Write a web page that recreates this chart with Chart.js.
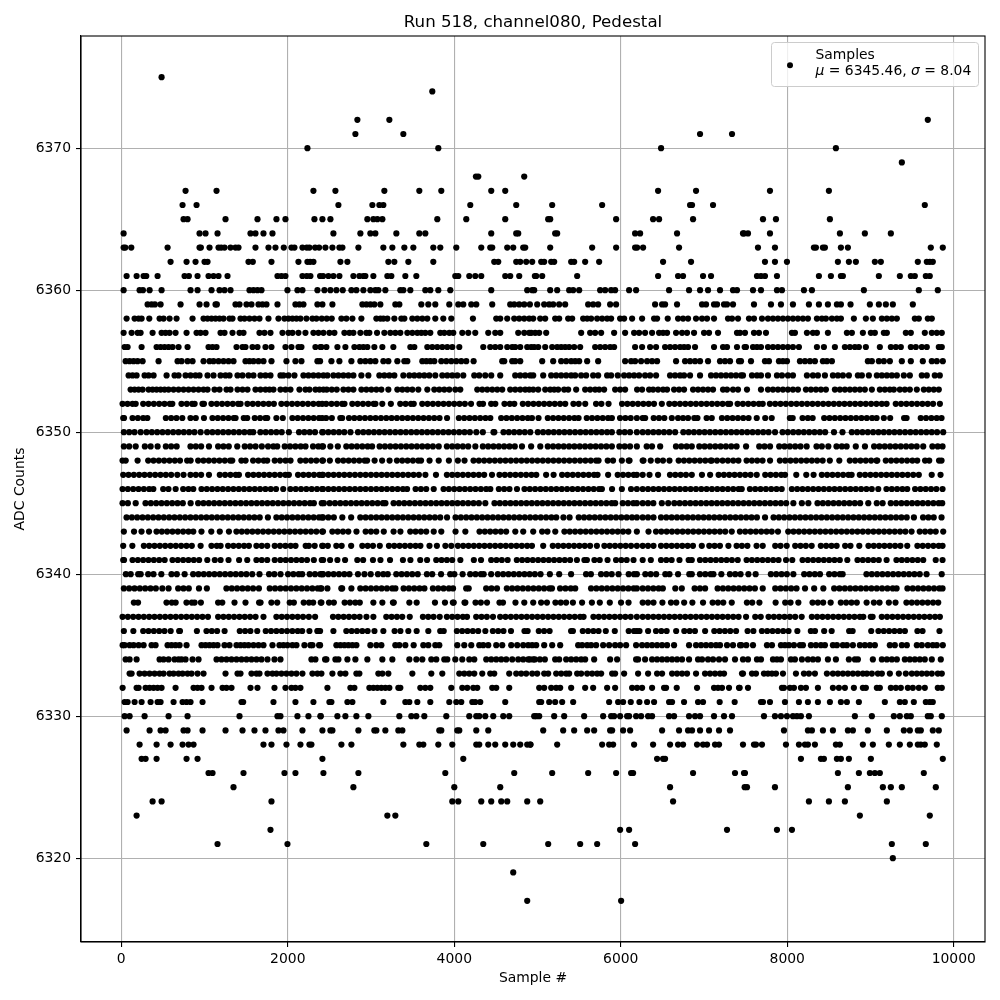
<!DOCTYPE html>
<html>
<head>
<meta charset="utf-8">
<style>html,body{margin:0;background:#fff}#wrap{width:1000px;height:1000px}</style>
<script src="https://cdn.jsdelivr.net/npm/chart.js@4/dist/chart.umd.min.js"></script>
</head>
<body>
<div id="wrap"><canvas id="pedestal" width="1000" height="1000"></canvas></div>
<script>
// sample numbers, one list per ADC level
const s6375=[484];
const s6374=[3736];
const s6372=[2836,3220,9688];
const s6371=[2812,3388,6952,7336];
const s6370=[2236,3808,6484,8584];
const s6369=[9376];
const s6368=[4260,4288,4840];
const s6367=[772,1144,2308,2572,3160,3580,3844,4444,4612,6448,6904,7792,8500];
const s6366=[736,904,2608,3016,3100,3148,4192,4744,5176,5776,6832,6856,7108,9652];
const s6365=[748,796,1252,1636,1864,1972,2320,2416,2512,2956,3028,3076,3136,3796,4144,4612,5128,5152,5944,6388,6460,6868,7708,7864,8512];
const s6364=[28,940,1012,1156,1552,1612,1708,1816,2548,2872,2992,3052,3304,3580,3652,4444,4744,4768,5212,5236,6172,6232,6676,7468,7480,7528,7792,8632,8932,9244];
const s6363=[28,48,120,556,940,956,1060,1168,1200,1240,1312,1372,1408,1612,1768,1852,1952,2044,2080,2176,2228,2260,2328,2376,2452,2536,2620,2656,2848,3148,3256,3400,3508,3748,3832,4024,4324,4432,4456,4636,4708,4828,4852,5152,5656,5944,6172,6196,6268,6700,7648,7852,8320,8344,8428,8452,8644,8728,9724,9868];
const s6362=[592,784,892,1000,1036,1528,1580,1804,2128,2236,2268,2308,2632,2716,3208,3280,3448,3748,4480,4528,4744,4792,4864,4936,5044,5080,5164,5200,5404,5440,5572,5740,6508,6844,7732,7852,7996,8608,8740,8824,9052,9124,9568,9676,9712,9748];
const s6361=[64,184,268,300,436,760,812,916,1048,1108,1168,1276,1876,1924,1972,2176,2228,2272,2388,2424,2488,2548,2620,2788,2860,2908,2932,3028,3196,3244,3412,3544,4012,4048,4180,4252,4324,4612,4672,4780,4968,4984,5056,5476,6448,6688,6748,6988,7084,7636,7684,7732,7876,8380,8524,8644,8668,9100,9352,9484,9532,9664,9712];
const s6360=[28,220,260,340,484,832,916,1084,1180,1240,1312,1540,1588,1636,1684,1996,2116,2176,2356,2440,2512,2584,2660,2764,2824,2908,2992,3052,3088,3172,3352,3388,3472,3652,3712,3808,3952,4444,4876,4936,4960,5152,5236,5380,5428,5500,5752,5812,5884,5932,6100,6184,6580,6820,6952,7048,7192,7348,7396,7588,7684,7876,7936,8200,8296,8920,9580,9808];
const s6359=[316,364,404,472,712,940,1024,1132,1148,1372,1420,1504,1564,1648,1696,1744,1876,2092,2140,2188,2356,2416,2536,2896,2944,2992,3040,3112,3292,3340,3604,3688,3772,3940,4048,4108,4204,4264,4456,4672,4720,4780,4840,4908,4996,5080,5140,5188,5260,5332,5608,5668,5728,5872,5944,6412,6496,6532,6676,6976,7024,7120,7156,7240,7276,7348,7600,7804,7924,8068,8260,8380,8488,8596,8644,8760,8992,9100,9184,9268,9508];
const s6358=[64,160,208,244,336,460,508,580,664,856,988,1036,1084,1132,1180,1228,1300,1336,1432,1480,1540,1600,1660,1768,1888,1960,2008,2056,2104,2152,2224,2296,2344,2408,2468,2528,2644,2704,2776,2884,3064,3112,3148,3196,3280,3364,3400,3496,3556,3616,3676,3772,3868,3964,4224,4504,4552,4636,4720,4780,4840,4900,4948,5032,5092,5212,5260,5368,5416,5548,5596,5644,5716,5776,5836,5884,5992,6040,6136,6256,6400,6436,6564,6688,6748,6808,6904,6976,7036,7120,7288,7336,7408,7540,7600,7696,7768,7828,7888,7948,8008,8068,8128,8188,8248,8356,8416,8464,8536,8596,8644,8800,8944,9028,9136,9196,9256,9316,9532,9580,9688,9736];
const s6357=[28,124,196,232,376,484,532,580,652,784,904,952,1012,1192,1240,1336,1420,1468,1660,1720,1792,1936,2008,2056,2128,2212,2308,2368,2428,2500,2560,2680,2740,2788,2872,2944,2980,3072,3160,3232,3292,3352,3436,3496,3556,3604,3652,3712,3832,3880,3940,3988,4096,4168,4252,4408,4492,4552,4768,4840,4900,4924,4972,5020,5104,5524,5632,5692,5764,5920,6052,6160,6220,6292,6376,6460,6508,6556,6664,6736,6796,6880,7000,7060,7168,7396,7432,7492,7600,7660,7744,8056,8092,8236,8308,8356,8488,8716,8776,8908,9004,9052,9160,9196,9424,9484,9652,9736,9796,9856];
const s6356=[40,76,244,424,472,520,568,616,688,796,1048,1096,1144,1384,1456,1492,1576,1636,1732,1804,1972,2044,2128,2164,2332,2392,2404,2464,2596,2692,2800,2860,2908,2956,3040,3136,3268,3472,3520,3676,3736,3796,3856,3916,3976,4060,4348,4432,4492,4552,4636,4696,4732,4792,4876,4924,4960,5008,5092,5176,5236,5284,5332,5380,5440,5512,5692,5752,5812,5872,5920,6172,6256,6352,6424,6532,6592,6652,6712,6760,6808,6892,7120,7228,7276,7396,7488,7504,7588,7636,7684,7768,7828,7888,7948,8008,8068,8140,8356,8440,8572,8692,8752,8812,8860,8944,9112,9244,9304,9364,9484,9544,9616,9676,9820,9856];
const s6355=[52,100,148,196,256,448,676,724,796,856,988,1060,1108,1168,1228,1288,1348,1492,1540,1588,1648,1708,1804,1984,2092,2164,2356,2388,2524,2620,2764,2872,2932,2992,3052,3148,3208,3316,3400,3436,3616,3664,3712,3760,3844,3904,3964,4024,4084,4144,4232,4576,4600,4696,4732,4792,5056,5188,5284,5344,5404,5452,5500,5596,5728,6052,6124,6172,6244,6316,6376,6436,6664,6772,6832,6892,6952,7048,7192,7252,7312,7420,7444,7564,7732,7780,7900,7948,7996,8152,8212,8272,8332,8428,8476,8536,8968,9016,9100,9160,9232,9376,9484,9628,9736,9796,9868];
const s6354=[88,136,184,280,328,388,544,640,688,772,832,892,940,1036,1108,1192,1252,1300,1396,1456,1528,1588,1672,1732,1792,1912,1948,2008,2080,2188,2248,2308,2368,2428,2476,2548,2608,2668,2728,2788,2884,2968,3100,3160,3220,3280,3388,3460,3520,3580,3640,3700,3772,3856,3916,3976,4036,4108,4240,4300,4372,4444,4552,4732,4792,4852,4912,4948,5068,5164,5224,5284,5344,5404,5452,5524,5584,5668,5728,5836,5884,5964,6040,6100,6160,6220,6292,6352,6424,6592,6652,6712,6760,6832,6952,7084,7144,7204,7264,7324,7384,7444,7468,7576,7636,7684,7768,7876,7936,8008,8068,8236,8308,8368,8452,8548,8608,8668,8740,8848,8896,8980,9076,9136,9196,9256,9316,9400,9472,9616,9676,9772,9832];
const s6353=[112,160,208,256,328,376,424,472,520,568,628,688,748,808,868,928,988,1036,1120,1180,1264,1312,1396,1456,1516,1612,1672,1732,1780,1828,1912,1972,2032,2140,2212,2260,2332,2380,2428,2468,2528,2588,2668,2728,2788,2884,2944,3004,3064,3124,3208,3316,3376,3436,3496,3568,3676,3760,3820,3880,3940,4012,4072,4276,4336,4396,4456,4516,4576,4672,4732,4792,4852,4900,4948,5008,5092,5152,5200,5248,5320,5368,5464,5572,5632,5692,5740,5800,5932,5992,6052,6196,6256,6340,6388,6448,6508,6556,6640,6700,6760,6868,6928,6988,7048,7108,7228,7276,7348,7408,7516,7684,7768,7828,7888,7948,8008,8068,8128,8224,8284,8344,8404,8464,8572,8632,8692,8752,8812,8872,8932,9016,9112,9172,9232,9280,9352,9412,9472,9556,9640,9700,9760,9820];
const s6352=[15,75,135,173,263,327,391,455,519,583,613,723,787,851,881,975,993,1083,1147,1211,1275,1339,1403,1433,1515,1579,1643,1707,1771,1833,1923,1987,2051,2115,2179,2243,2307,2371,2413,2461,2525,2589,2653,2681,2775,2839,2903,2967,3031,3053,3135,3238,3351,3415,3479,3513,3615,3679,3743,3807,3871,3935,3999,4063,4127,4201,4303,4345,4443,4493,4603,4667,4721,4823,4887,4951,5015,5079,5143,5207,5271,5333,5431,5495,5573,5703,5767,5853,6015,6079,6143,6207,6271,6335,6399,6493,6583,6647,6711,6775,6839,6903,6967,7031,7095,7159,7223,7287,7313,7403,7467,7531,7595,7659,7705,7791,7855,7919,7983,8047,8111,8175,8239,8303,8367,8431,8495,8559,8623,8687,8751,8815,8879,8943,9007,9071,9135,9193,9303,9367,9431,9495,9559,9623,9687,9751,9833];
const s6351=[23,33,135,199,263,313,535,599,663,733,831,895,993,1095,1159,1223,1287,1351,1373,1471,1513,1603,1667,1731,1753,1863,1940,2055,2119,2183,2247,2311,2375,2413,2460,2529,2631,2653,2735,2799,2863,2927,2991,3055,3119,3183,3247,3311,3375,3439,3503,3567,3631,3695,3759,3823,3913,4055,4119,4183,4247,4311,4375,4433,4563,4627,4691,4755,4819,4883,4933,5012,5123,5187,5251,5315,5379,5443,5493,5591,5655,5719,5783,5847,5893,5991,6055,6119,6193,6263,6293,6395,6459,6523,6613,6688,6748,6808,6883,6921,7031,7093,7215,7279,7343,7407,7471,7535,7633,7735,7813,8031,8065,8183,8247,8305,8443,8507,8571,8635,8699,8763,8827,8891,8955,9019,9073,9160,9236,9403,9433,9603,9667,9731,9795,9853];
const s6350=[31,95,159,233,303,367,431,495,559,623,687,751,815,879,953,1031,1095,1159,1223,1287,1351,1415,1479,1543,1585,1671,1735,1799,1863,1927,2013,2135,2199,2263,2327,2413,2423,2487,2551,2615,2679,2753,2843,2907,2971,3035,3099,3163,3227,3291,3355,3419,3483,3547,3611,3675,3739,3803,3867,3931,3995,4059,4123,4187,4265,4343,4471,4481,4591,4655,4719,4783,4847,4913,5003,5067,5131,5195,5259,5323,5387,5451,5515,5579,5643,5707,5771,5835,5893,5983,6047,6111,6193,6263,6327,6391,6455,6519,6583,6653,6751,6815,6879,6943,7007,7071,7135,7199,7263,7327,7391,7455,7519,7583,7647,7711,7775,7853,7943,8007,8071,8135,8199,8263,8327,8391,8455,8561,8663,8775,8839,8903,8967,9031,9095,9159,9223,9287,9351,9415,9479,9543,9607,9671,9735,9799,9873];
const s6349=[31,95,173,283,353,436,535,599,665,831,895,959,1053,1163,1227,1291,1393,1483,1547,1613,1688,1763,1827,1873,1963,2027,2091,2155,2213,2303,2367,2413,2423,2511,2601,2703,2767,2831,2895,2959,3013,3103,3167,3231,3295,3359,3423,3487,3551,3615,3679,3743,3813,3911,3975,4039,4103,4167,4253,4343,4407,4471,4535,4599,4663,4727,4813,4923,5033,5123,5187,5251,5315,5379,5443,5507,5571,5635,5699,5763,5827,5893,5983,6047,6111,6193,6311,6375,6473,6663,6727,6791,6853,6943,7007,7071,7135,7199,7263,7327,7391,7505,7663,7727,7793,7903,7967,8031,8095,8159,8233,8351,8415,8493,8591,8655,8713,8823,8933,9043,9107,9171,9235,9299,9363,9427,9491,9555,9633,9743,9807,9865];
const s6348=[15,53,196,323,387,451,515,579,643,705,791,833,923,987,1051,1115,1179,1243,1307,1333,1443,1493,1583,1647,1711,1753,1843,1907,1973,2033,2151,2215,2279,2343,2413,2423,2505,2603,2667,2731,2795,2859,2923,2953,3043,3133,3223,3311,3375,3439,3503,3567,3601,3703,3813,3935,4043,4123,4231,4295,4359,4423,4487,4551,4615,4679,4743,4807,4871,4935,4999,5063,5127,5191,5255,5319,5383,5447,5511,5575,5639,5703,5733,5843,5907,6013,6095,6105,6263,6273,6360,6443,6507,6585,6695,6759,6823,6887,6951,7015,7079,7093,7156,7223,7287,7351,7413,7511,7575,7639,7703,7793,7911,7975,8039,8103,8167,8231,8295,8359,8425,8511,8625,8751,8815,8879,8943,9007,9071,9081,9183,9247,9311,9375,9439,9503,9561,9655,9705,9823,9853];
const s6347=[23,87,151,215,279,343,407,471,535,599,673,748,831,895,959,1053,1183,1247,1311,1375,1413,1523,1587,1651,1715,1779,1843,1907,1971,2013,2123,2187,2251,2315,2379,2413,2423,2487,2551,2615,2679,2743,2807,2871,2935,2999,3063,3127,3191,3255,3319,3383,3447,3511,3575,3653,3780,3911,3975,4039,4103,4167,4231,4295,4359,4453,4543,4607,4671,4735,4799,4863,4927,4985,5103,5193,5295,5359,5423,5487,5551,5615,5679,5721,5848,5963,6027,6091,6155,6193,6263,6345,6448,6591,6655,6719,6783,6853,6975,7073,7175,7239,7303,7367,7431,7495,7559,7633,7735,7799,7863,7927,7973,8108,8228,8316,8415,8479,8543,8607,8671,8735,8773,8871,8935,8999,9063,9127,9191,9255,9319,9383,9447,9513,9580,9735,9841];
const s6346=[15,79,143,207,271,335,385,503,567,653,743,807,865,963,1027,1091,1155,1219,1283,1347,1411,1475,1539,1603,1667,1731,1795,1859,1945,2031,2095,2159,2223,2287,2351,2413,2423,2487,2551,2615,2679,2743,2807,2871,2935,2999,3063,3127,3191,3255,3319,3383,3433,3535,3599,3663,3753,3871,3935,3999,4063,4127,4191,4255,4319,4383,4433,4535,4599,4663,4753,4843,4907,4971,5035,5099,5163,5227,5291,5355,5419,5483,5547,5611,5675,5739,5773,5895,6013,6123,6193,6263,6327,6391,6455,6519,6583,6647,6711,6775,6839,6903,6967,7031,7095,7159,7223,7287,7351,7415,7453,7551,7615,7679,7743,7807,7871,7933,8055,8119,8183,8247,8311,8375,8439,8503,8567,8631,8695,8759,8823,8887,8951,9015,9093,9191,9255,9319,9383,9441,9535,9599,9663,9727,9791,9865];
const s6345=[15,79,173,291,355,419,483,547,611,675,739,833,923,987,1051,1115,1179,1243,1307,1371,1435,1499,1563,1627,1691,1755,1819,1883,1947,2011,2075,2139,2203,2267,2313,2408,2433,2503,2567,2631,2695,2759,2823,2887,2951,3015,3079,3143,3173,3271,3335,3399,3463,3527,3591,3655,3719,3783,3847,3911,3975,4039,4103,4167,4231,4295,4373,4483,4547,4611,4675,4739,4803,4867,4931,4995,5059,5123,5187,5251,5315,5379,5443,5507,5571,5635,5699,5763,5827,5891,5933,6023,6087,6151,6193,6263,6327,6391,6493,6570,6643,6707,6771,6835,6899,6963,7027,7091,7155,7219,7283,7347,7411,7475,7539,7603,7667,7731,7795,7859,7923,7987,8073,8175,8253,8363,8427,8491,8555,8619,8683,8747,8811,8875,8973,9075,9145,9243,9307,9371,9435,9499,9563,9627,9691,9755,9819,9861];
const s6344=[63,127,191,255,319,383,447,511,575,639,703,767,831,895,959,1023,1087,1151,1215,1279,1343,1407,1471,1535,1599,1663,1761,1863,1927,1991,2055,2119,2183,2247,2311,2375,2413,2423,2487,2553,2655,2761,2871,2935,2999,3063,3127,3191,3255,3319,3383,3447,3511,3575,3639,3703,3767,3831,3913,4015,4079,4143,4207,4271,4335,4399,4463,4527,4591,4655,4719,4783,4847,4911,4975,5039,5103,5167,5225,5311,5385,5495,5559,5623,5687,5751,5815,5879,5943,6007,6071,6135,6193,6263,6327,6393,6483,6547,6611,6675,6739,6803,6867,6931,6995,7059,7123,7187,7251,7315,7379,7443,7507,7571,7635,7733,7835,7899,7963,8027,8091,8155,8219,8283,8347,8411,8475,8539,8603,8667,8731,8795,8859,8923,8987,9051,9115,9179,9243,9307,9371,9435,9521,9631,9695,9759,9853];
const s6343=[31,153,243,333,423,487,551,615,679,743,807,865,963,1081,1183,1293,1383,1447,1511,1575,1639,1703,1767,1831,1895,1959,2023,2087,2151,2215,2279,2343,2413,2423,2535,2599,2663,2727,2825,2935,2999,3063,3153,3271,3353,3471,3535,3599,3663,3753,3844,4015,4133,4303,4367,4431,4495,4559,4623,4733,4828,4948,5055,5119,5213,5323,5387,5451,5515,5579,5643,5707,5771,5835,5899,5963,6027,6091,6193,6333,6423,6487,6551,6615,6679,6743,6807,6871,6935,6999,7063,7127,7191,7255,7333,7431,7495,7559,7623,7687,7751,7813,7888,8011,8075,8139,8203,8267,8331,8395,8459,8523,8587,8651,8715,8779,8843,8907,8971,9035,9099,9163,9227,9291,9355,9419,9493,9591,9655,9719,9783,9873];
const s6342=[23,133,271,335,399,463,527,591,655,719,783,847,953,1083,1147,1193,1283,1347,1411,1475,1533,1623,1687,1753,1843,1907,1971,2035,2093,2215,2253,2323,2413,2423,2481,2583,2647,2761,2895,2959,3023,3105,3215,3279,3343,3407,3471,3535,3593,3702,3791,3893,3964,4043,4107,4171,4235,4299,4363,4427,4491,4555,4619,4683,4747,4811,4875,4933,5068,5183,5247,5311,5375,5439,5503,5567,5631,5713,5803,5867,5931,5995,6059,6123,6193,6263,6327,6393,6483,6547,6611,6675,6739,6803,6867,6973,7063,7127,7191,7293,7391,7455,7521,7631,7705,7855,7919,7993,8095,8159,8223,8293,8403,8467,8531,8593,8695,8759,8865,8975,9039,9103,9167,9231,9295,9359,9441,9563,9627,9691,9755,9819,9865];
const s6341=[23,33,135,199,263,327,391,455,521,615,679,743,807,871,935,1033,1123,1193,1288,1415,1513,1623,1687,1753,1843,1911,1975,2039,2103,2167,2231,2313,2408,2425,2508,2596,2688,2835,2905,3023,3113,3228,3383,3473,3591,3673,3783,3847,3911,3975,4073,4235,4321,4443,4507,4571,4641,4751,4815,4879,4943,5007,5071,5135,5199,5263,5327,5391,5473,5563,5593,5683,5747,5841,5943,6007,6071,6153,6263,6361,6483,6547,6611,6705,6815,6853,6951,7015,7079,7143,7207,7271,7335,7405,7511,7575,7639,7703,7767,7831,7895,7985,8060,8183,8247,8311,8375,8439,8503,8567,8631,8721,8843,8907,8971,9035,9099,9193,9311,9375,9439,9503,9567,9633,9783,9865];
const s6340=[55,113,203,233,323,387,481,603,667,761,863,927,991,1055,1119,1183,1247,1311,1375,1439,1503,1573,1660,1775,1839,1913,2003,2067,2131,2173,2263,2327,2391,2413,2423,2487,2551,2615,2679,2741,2843,2921,2996,3083,3147,3201,3303,3367,3431,3495,3561,3671,3735,3841,3951,4001,4100,4191,4255,4319,4353,4443,4523,4587,4651,4715,4779,4843,4905,4968,5036,5148,5260,5403,5583,5641,5763,5827,5891,5973,6095,6159,6193,6295,6359,6425,6535,6585,6688,6823,6853,6951,7015,7079,7113,7208,7311,7375,7439,7533,7620,7803,7867,7931,7995,8073,8203,8267,8331,8393,8503,8567,8631,8665,8951,9015,9079,9143,9207,9271,9335,9399,9463,9527,9591,9673,9855];
const s6339=[31,95,159,223,287,351,415,493,568,683,747,811,933,1028,1263,1327,1391,1455,1519,1583,1653,1783,1847,1911,1975,2039,2103,2167,2231,2295,2359,2393,2404,2476,2643,2653,2764,2871,2935,2999,3063,3127,3191,3255,3293,3391,3455,3519,3583,3641,3743,3807,3871,3935,3985,4143,4173,4383,4447,4513,4631,4695,4759,4823,4887,4951,5015,5079,5143,5173,5271,5335,5399,5453,5643,5707,5771,5835,5899,5963,6027,6091,6155,6193,6263,6327,6391,6455,6505,6655,6733,6887,6951,7013,7163,7227,7291,7355,7419,7483,7547,7611,7705,7855,7919,7983,8047,8111,8213,8323,8433,8563,8627,8691,8755,8819,8883,8947,9011,9075,9139,9203,9267,9313,9443,9507,9571,9635,9699,9763,9827,9865];
const s6338=[151,201,543,607,653,783,847,881,956,1163,1213,1360,1492,1655,1673,1803,1873,2023,2073,2191,2255,2305,2396,2404,2495,2553,2683,2747,2811,2865,3028,3136,3263,3273,3460,3548,3768,3888,3983,3993,4123,4133,4255,4319,4393,4543,4585,4735,4841,4948,5043,5113,5215,5279,5343,5425,5535,5653,5748,5868,6003,6093,6263,6327,6393,6500,6603,6667,6761,6860,6988,7103,7167,7231,7333,7515,7579,7665,7860,7975,8039,8133,8303,8367,8431,8521,8643,8707,8771,8835,8953,9040,9108,9220,9300,9431,9495,9559,9623,9687,9751,9813];
const s6337=[15,79,143,207,271,335,399,463,527,591,655,719,783,847,911,975,1041,1163,1227,1291,1355,1419,1483,1547,1613,1708,1863,1927,1991,2055,2119,2183,2253,2328,2543,2607,2671,2735,2799,2863,2945,3028,3183,3247,3311,3375,3465,3623,3687,3751,3825,3911,3975,4039,4103,4153,4263,4327,4391,4465,4551,4615,4679,4743,4807,4871,4935,4999,5063,5127,5191,5255,5319,5383,5447,5511,5553,5671,5735,5799,5863,5927,5991,6055,6119,6193,6263,6327,6391,6455,6519,6583,6647,6711,6775,6839,6903,6967,7031,7095,7159,7223,7287,7351,7415,7505,7615,7681,7775,7839,7903,7967,8031,8095,8173,8295,8359,8423,8487,8551,8615,8679,8743,8807,8871,8913,9003,9025,9135,9199,9263,9327,9391,9455,9519,9583,9647,9711,9775,9833];
const s6336=[31,145,263,327,391,455,519,593,695,705,908,1023,1087,1151,1241,1423,1487,1551,1633,1735,1799,1863,1927,1991,2055,2119,2173,2260,2355,2361,2388,2548,2703,2767,2831,2895,2959,3041,3148,3283,3353,3448,3548,3688,3831,3873,4031,4095,4159,4223,4287,4373,4463,4527,4591,4681,4843,4881,5015,5079,5145,5403,5425,5543,5607,5671,5733,5820,5928,6095,6159,6193,6225,6328,6423,6487,6551,6665,6763,6827,6891,7013,7123,7187,7251,7315,7385,7523,7593,7695,7759,7823,7887,7951,8015,8121,8283,8333,8443,8533,8743,8785,9008,9095,9159,9223,9287,9351,9413,9563,9625,9828];
const s6335=[16,40,100,148,208,268,364,412,556,604,652,700,784,964,1012,1060,1108,1156,1240,1300,1384,1432,1480,1528,1588,1648,1708,1816,1900,1948,1996,2056,2104,2200,2272,2296,2376,2388,2584,2632,2680,2728,2776,2824,2992,3064,3124,3292,3340,3412,3512,3628,3688,3772,3820,4036,4120,4204,4300,4348,4408,4504,4576,4684,4756,4828,4888,4936,4984,5080,5176,5272,5488,5536,5596,5644,5704,5788,5860,5932,5992,6064,6184,6256,6316,6376,6436,6496,6556,6640,6820,6904,6964,7024,7084,7144,7192,7276,7348,7432,7448,7508,7588,7756,7816,7924,7972,8020,8080,8152,8188,8284,8344,8404,8452,8548,8596,8668,8716,8788,8872,8932,8992,9052,9232,9292,9376,9436,9556,9616,9688,9748,9796,9868];
const s6334=[52,100,184,460,508,568,640,688,724,772,856,928,1144,1204,1264,1324,1384,1444,1504,1564,1624,1684,1756,1840,1912,2284,2332,2448,2464,2572,2608,2716,2812,2956,3136,3256,3460,3544,3616,3724,3784,3880,3916,4012,4096,4180,4240,4384,4444,4504,4564,4624,4696,4768,4828,4888,4948,4908,4968,5028,5088,5212,5260,5344,5404,5464,5524,5572,5680,5872,5956,6184,6208,6292,6376,6436,6496,6556,6616,6676,6736,6820,6928,6976,7048,7108,7180,7252,7372,7468,7528,7636,7684,7828,7876,7924,8044,8092,8176,8248,8308,8368,8488,8584,8740,8812,8848,9028,9136,9196,9256,9316,9412,9472,9532,9592,9652,9736,9844];
const s6333=[100,124,220,280,340,400,460,508,580,628,688,736,796,844,916,988,1252,1396,1432,1564,1624,1660,1756,1816,1864,1924,1984,2044,2104,2176,2296,2356,2404,2536,2632,2692,2824,2860,3088,3136,3208,3496,3724,3856,4060,4120,4180,4240,4336,4432,4480,4660,4744,4804,4864,4936,4996,5080,5128,5224,5284,5344,5380,5476,5524,5596,5656,5716,5764,5896,5932,6040,6208,6328,6436,6496,6616,6676,6736,6796,6904,7012,7072,7132,7192,7240,7456,7468,7576,7624,7720,7768,7816,7864,7948,8104,8200,8260,8332,8476,8548,8608,8668,8728,8788,8848,8908,8956,9016,9088,9136,9232,9340,9424,9496,9556,9616,9676,9736,9808,9856];
const s6332=[16,184,208,292,340,388,436,484,652,868,916,964,1084,1216,1264,1324,1552,1636,1840,1972,2044,2092,2152,2476,2752,2800,2980,3028,3076,3124,3172,3220,3328,3352,3592,3652,3712,3964,4096,4156,4228,4276,4456,4504,4660,5020,5080,5164,5224,5272,5404,5572,5668,5836,5932,6136,6196,6256,6376,6520,6544,6672,6916,7120,7168,7216,7300,7420,7428,7528,7936,7960,8032,8080,8164,8224,8368,8548,8620,8692,8800,8908,8944,9076,9112,9244,9304,9364,9448,9508,9580,9652,9808,9856];
const s6331=[40,76,160,244,352,436,472,628,736,784,832,976,1444,1464,1828,2092,2308,2500,2524,2716,2776,3148,3412,3460,3556,3712,3940,4024,4084,4216,4252,4312,4612,5020,5044,5140,5212,5296,5428,5860,5968,6028,6120,6224,6316,6400,6580,6616,6760,6928,6988,7188,7368,7684,7708,7792,7972,8140,8248,8368,8512,8644,8716,8860,9172,9352,9412,9520,9664,9712,9748];
const s6330=[40,100,280,568,796,1420,1876,1912,2116,2248,2392,2396,2596,2692,2824,2968,3340,3484,3544,3640,3904,4180,4264,4300,4372,4468,4588,4660,4960,4984,5020,5200,5320,5560,5788,5884,5920,5992,6076,6100,6184,6244,6328,6376,6580,6640,6820,6892,6952,7120,7240,7336,7720,7852,7924,7996,8068,8116,8164,8260,8812,9016,9280,9352,9436,9484,9688,9724,9856];
const s6329=[64,340,472,532,748,796,976,1252,1456,1600,1732,1888,1948,2176,2416,2512,2536,2848,3040,3064,3172,3328,3376,3820,3844,4036,4060,4264,4408,5068,5308,5440,5596,5680,5872,5896,6028,6112,6496,6700,6808,6856,6952,7060,7180,7312,7960,8248,8296,8428,8548,8728,8788,8968,9196,9400,9472,9568,9604,9748,9820];
const s6328=[220,424,592,736,808,868,1708,1804,1984,2152,2260,2284,2644,2764,3388,3580,3628,3808,3976,4264,4300,4408,4492,4612,4708,4792,4876,4912,4916,5236,5776,5860,5908,6160,6388,6592,6688,6748,6916,6988,7036,7132,7180,7468,7600,7624,7696,7984,8140,8212,8248,8332,8584,8632,8908,9028,9220,9352,9472,9568,9604,9652,9796];
const s6327=[244,292,424,784,916,2416,4108,6436,6508,6532,8164,8404,8440,8596,8644,8740,9004,9868];
const s6326=[1048,1096,1468,1960,2092,2428,2848,3892,4720,5176,5608,5944,6124,6148,6868,7372,7480,7492,8608,8860,8992,9052,9112,9640];
const s6325=[1348,2788,4000,4552,6592,7488,7516,7852,8728,9148,9244,9376,9784];
const s6324=[376,484,1804,3976,4048,4324,4444,4564,4636,4876,5032,6628,8260,8500,8692,9196];
const s6323=[184,3196,3292,8872,9712];
const s6322=[1792,5992,6100,7276,7876,8056];
const s6321=[1156,1996,3664,4348,5128,5512,5716,6172,9256,9664];
const s6320=[9268];
const s6319=[4708];
const s6317=[4876,6004];

const adcLevels=[6375,6374,6372,6371,6370,6369,6368,6367,6366,6365,6364,6363,6362,6361,6360,6359,6358,6357,6356,6355,6354,6353,6352,6351,6350,6349,6348,6347,6346,6345,6344,6343,6342,6341,6340,6339,6338,6337,6336,6335,6334,6333,6332,6331,6330,6329,6328,6327,6326,6325,6324,6323,6322,6321,6320,6319,6317];
const samplesAtLevel=[s6375,s6374,s6372,s6371,s6370,s6369,s6368,s6367,s6366,s6365,s6364,s6363,s6362,s6361,s6360,s6359,s6358,s6357,s6356,s6355,s6354,s6353,s6352,s6351,s6350,s6349,s6348,s6347,s6346,s6345,s6344,s6343,s6342,s6341,s6340,s6339,s6338,s6337,s6336,s6335,s6334,s6333,s6332,s6331,s6330,s6329,s6328,s6327,s6326,s6325,s6324,s6323,s6322,s6321,s6320,s6319,s6317];

const xTicks=[0,2000,4000,6000,8000,10000];
const yTicks=[6320,6330,6340,6350,6360,6370];

var points=[];
adcLevels.forEach(function(level,i){
  samplesAtLevel[i].forEach(function(s){ points.push({x:s,y:level}); });
});

var mono='"DejaVu Sans"';

// matplotlib style legend box, the built in one can't do the mixed italics
var legendBox={
  id:'legendBox',
  afterDatasetsDraw:function(chart){
    var c=chart.ctx, a=chart.chartArea;
    c.save();
    // top and right spines
    c.strokeStyle='#000';
    c.lineWidth=1.1;
    c.strokeRect(a.left,a.top,a.right-a.left,a.bottom-a.top);
    c.beginPath();
    c.roundRect(771.5,42.5,207,44,3);
    c.fillStyle='rgba(255,255,255,0.8)';
    c.fill();
    c.strokeStyle='#cccccc';
    c.lineWidth=1;
    c.stroke();
    c.beginPath();
    c.arc(790,65.3,3,0,Math.PI*2);
    c.fillStyle='#000';
    c.fill();
    c.textBaseline='alphabetic';
    c.font='13.9px '+mono;
    c.fillText('Samples',815.5,59);
    var x=815.5;
    [['\u03bc',true],[' = 6345.46, ',false],['\u03c3',true],[' = 8.04',false]].forEach(function(p){
      c.font=(p[1]?'italic ':'')+'13.9px '+mono;
      c.fillText(p[0],x,75);
      x+=c.measureText(p[0]).width;
    });
    c.restore();
  }
};

new Chart(document.getElementById('pedestal'),{
  type:'scatter',
  data:{datasets:[{label:'Samples',data:points,pointRadius:3.1,pointHoverRadius:3.1,backgroundColor:'#000',borderWidth:0}]},
  plugins:[legendBox],
  options:{
    responsive:false,
    animation:false,
    parsing:false,
    normalized:false,
    layout:{padding:{right:15,left:0,top:0,bottom:0}},
    plugins:{
      legend:{display:false},
      tooltip:{enabled:false},
      title:{display:true,text:'Run 518, channel080, Pedestal',fullSize:false,color:'#000',
        font:{family:mono,size:16.67,weight:'normal',lineHeight:1.2},padding:{top:13,bottom:3}}
    },
    scales:{
      x:{
        type:'linear',min:-484,max:10375,
        afterBuildTicks:function(a){ a.ticks=xTicks.map(function(v){return {value:v};}); },
        afterFit:function(a){ a.height=58; },
        grid:{color:'#b0b0b0',lineWidth:1.1,tickColor:'#000',tickLength:5,tickWidth:1.1},
        border:{color:'#000',width:1.1},
        ticks:{color:'#000',maxRotation:0,padding:4,autoSkip:false,font:{family:mono,size:13.9},callback:function(v){return String(v);}},
        title:{display:true,text:'Sample #',color:'#000',font:{family:mono,size:13.9,lineHeight:1.2},padding:{top:0,bottom:13}}
      },
      y:{
        type:'linear',min:6314.1,max:6377.9,
        afterBuildTicks:function(a){ a.ticks=yTicks.map(function(v){return {value:v};}); },
        afterFit:function(a){ a.width=81; },
        grid:{color:'#b0b0b0',lineWidth:1.1,tickColor:'#000',tickLength:5,tickWidth:1.1},
        border:{color:'#000',width:1.1},
        ticks:{color:'#000',padding:5,autoSkip:false,font:{family:mono,size:13.9},callback:function(v){return String(v);}},
        title:{display:true,text:'ADC Counts',color:'#000',font:{family:mono,size:13.9,lineHeight:1.2},padding:{top:12,bottom:0}}
      }
    }
  }
});
</script>
</body>
</html>
